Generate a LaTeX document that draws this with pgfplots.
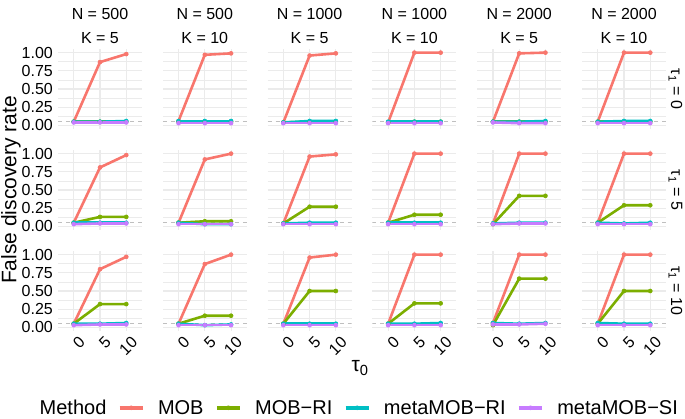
\documentclass[border=0pt]{standalone}
\usepackage{fontspec}
\setmainfont{Liberation Sans}
\usepackage{pgfplots}
\usepackage{pgfplotstable}
\pgfplotsset{compat=1.18}
\definecolor{cMOB}{HTML}{F8766D}
\definecolor{cRI}{HTML}{7CAE00}
\definecolor{cMRI}{HTML}{00BFC4}
\definecolor{cMSI}{HTML}{C77CFF}
\definecolor{gridc}{HTML}{EBEBEB}

% x: 1,2,3 = tau0 of 0,5,10
\pgfplotstableread{
x mob mobri metari metasi
1 0.05 0.05 0.05 0.04
2 0.87 0.05 0.05 0.04
3 0.98 0.05 0.06 0.04
}\tAa
\pgfplotstableread{
x mob mobri metari metasi
1 0.06 0.05 0.06 0.03
2 0.97 0.05 0.06 0.03
3 0.99 0.05 0.06 0.03
}\tAb
\pgfplotstableread{
x mob mobri metari metasi
1 0.04 0.04 0.04 0.03
2 0.96 0.05 0.06 0.03
3 0.99 0.05 0.06 0.03
}\tAc
\pgfplotstableread{
x mob mobri metari metasi
1 0.04 0.04 0.05 0.03
2 1.00 0.05 0.05 0.03
3 1.00 0.05 0.05 0.03
}\tAd
\pgfplotstableread{
x mob mobri metari metasi
1 0.05 0.05 0.05 0.04
2 0.99 0.05 0.05 0.03
3 1.00 0.05 0.06 0.03
}\tAe
\pgfplotstableread{
x mob mobri metari metasi
1 0.05 0.05 0.05 0.03
2 1.00 0.05 0.06 0.03
3 1.00 0.05 0.06 0.03
}\tAf
\pgfplotstableread{
x mob mobri metari metasi
1 0.05 0.05 0.05 0.03
2 0.81 0.13 0.05 0.04
3 0.98 0.13 0.05 0.04
}\tBa
\pgfplotstableread{
x mob mobri metari metasi
1 0.05 0.05 0.05 0.03
2 0.92 0.07 0.03 0.03
3 1.00 0.07 0.03 0.03
}\tBb
\pgfplotstableread{
x mob mobri metari metasi
1 0.04 0.04 0.04 0.03
2 0.96 0.27 0.05 0.03
3 0.99 0.27 0.05 0.03
}\tBc
\pgfplotstableread{
x mob mobri metari metasi
1 0.05 0.05 0.05 0.03
2 1.00 0.16 0.05 0.03
3 1.00 0.16 0.05 0.03
}\tBd
\pgfplotstableread{
x mob mobri metari metasi
1 0.04 0.03 0.04 0.03
2 1.00 0.42 0.05 0.04
3 1.00 0.42 0.05 0.04
}\tBe
\pgfplotstableread{
x mob mobri metari metasi
1 0.05 0.05 0.05 0.03
2 1.00 0.29 0.04 0.03
3 1.00 0.29 0.05 0.03
}\tBf
\pgfplotstableread{
x mob mobri metari metasi
1 0.05 0.05 0.05 0.03
2 0.80 0.32 0.05 0.04
3 0.97 0.32 0.06 0.04
}\tCa
\pgfplotstableread{
x mob mobri metari metasi
1 0.05 0.05 0.05 0.03
2 0.87 0.16 0.03 0.03
3 1.00 0.16 0.04 0.03
}\tCb
\pgfplotstableread{
x mob mobri metari metasi
1 0.05 0.05 0.05 0.03
2 0.96 0.50 0.05 0.03
3 1.00 0.50 0.05 0.03
}\tCc
\pgfplotstableread{
x mob mobri metari metasi
1 0.05 0.05 0.05 0.03
2 1.00 0.33 0.05 0.03
3 1.00 0.33 0.06 0.03
}\tCd
\pgfplotstableread{
x mob mobri metari metasi
1 0.06 0.03 0.06 0.04
2 1.00 0.67 0.05 0.04
3 1.00 0.67 0.06 0.05
}\tCe
\pgfplotstableread{
x mob mobri metari metasi
1 0.05 0.05 0.06 0.03
2 1.00 0.50 0.05 0.03
3 1.00 0.50 0.05 0.03
}\tCf

\pgfplotsset{
  panel/.style={
    scale only axis, width=84pt, height=80pt, anchor=north west,
    xmin=0.4, xmax=3.6, ymin=-0.05, ymax=1.05,
    xtick={1,2,3}, ytick={0,0.25,0.5,0.75,1},
    minor ytick={0.125,0.375,0.625,0.875},
    xticklabels={,,}, yticklabels={,,,,},
    grid=both,
    major grid style={draw=gridc, line width=1.1pt},
    minor grid style={draw=gridc, line width=0.55pt},
    axis line style={draw=none},
    major tick length=0pt, minor tick length=0pt,
    tick label style={font=\fontsize{16}{18}\selectfont, text=black},
    legend image code/.code={\draw[mark repeat=2,mark phase=2,##1,line width=3.6pt]
        plot coordinates {(0pt,0pt) (11.5pt,0pt) (23pt,0pt)};},
  },
  ylab/.style={yticklabels={0.00,0.25,0.50,0.75,1.00},
    yticklabel style={anchor=east, inner sep=0pt, xshift=-5pt}},
  xlab/.style={xticklabels={0,5,10},
    xticklabel style={rotate=45, anchor=north east, inner sep=0pt, yshift=-6pt}},
  sMOB/.style={color=cMOB, line width=2.6pt, line join=round, mark=*, mark size=2pt, mark options={line width=0.6pt}},
  sRI/.style={color=cRI, line width=2.6pt, line join=round, mark=*, mark size=2pt, mark options={line width=0.6pt}},
  sMRI/.style={color=cMRI, line width=2.6pt, line join=round, mark=*, mark size=2pt, mark options={line width=0.6pt}},
  sMSI/.style={color=cMSI, line width=2.6pt, line join=round, mark=*, mark size=2pt, mark options={line width=0.6pt}},
}

\newcommand{\panel}[5]{%
\begin{axis}[panel, at={(58pt+#1*104.8pt,-49pt-#2*101pt)}, #4]
#5
\addplot[forget plot, draw=gray!50, line width=0.8pt, dash pattern=on 4pt off 4pt] coordinates {(0.4,0.05) (3.6,0.05)};
\addplot[sMOB] table[x=x,y=mob]{#3};
\addplot[sRI] table[x=x,y=mobri]{#3};
\addplot[sMRI] table[x=x,y=metari]{#3};
\addplot[sMSI] table[x=x,y=metasi]{#3};
\end{axis}}

\begin{document}
\begin{tikzpicture}
\useasboundingbox (0,0) rectangle (685pt,-419pt);
% row 1
\panel{0}{0}{\tAa}{ylab}{}
\panel{1}{0}{\tAb}{}{}
\panel{2}{0}{\tAc}{}{}
\panel{3}{0}{\tAd}{}{}
\panel{4}{0}{\tAe}{}{}
\panel{5}{0}{\tAf}{}{}
% row 2
\panel{0}{1}{\tBa}{ylab}{}
\panel{1}{1}{\tBb}{}{}
\panel{2}{1}{\tBc}{}{}
\panel{3}{1}{\tBd}{}{}
\panel{4}{1}{\tBe}{}{}
\panel{5}{1}{\tBf}{}{}
% row 3
\panel{0}{2}{\tCa}{ylab,xlab,
  legend columns=5,
  legend entries={Method,MOB,MOB−RI,metaMOB−RI,metaMOB−SI},
  legend style={at={(axis description cs:-0.381,-0.96)}, anchor=west,
    draw=none, fill=none, inner sep=0pt, font=\fontsize{20}{23}\selectfont,
    nodes={inner sep=0pt},
    column sep=0pt,
    /tikz/every odd column/.append style={column sep=13.5pt},
    /tikz/every even column/.append style={column sep=11.5pt}}}{\addlegendimage{empty legend}}
\panel{1}{2}{\tCb}{xlab}{}
\panel{2}{2}{\tCc}{xlab}{}
\panel{3}{2}{\tCd}{xlab}{}
\panel{4}{2}{\tCe}{xlab}{}
\panel{5}{2}{\tCf}{xlab}{}
% strip labels
\foreach \c/\n/\k in {0/500/5,1/500/10,2/1000/5,3/1000/10,4/2000/5,5/2000/10}{
  \node[anchor=base, inner sep=0pt, font=\fontsize{16}{18}\selectfont] at (100pt+\c*104.8pt,-20pt) {N = \n};
  \node[anchor=base, inner sep=0pt, font=\fontsize{16}{18}\selectfont] at (100pt+\c*104.8pt,-43.5pt) {K = \k};
}
\foreach \r/\t in {0/0,1/5,2/10}{
  \node[rotate=-90, inner sep=0pt, font=\fontsize{16}{18}\selectfont] at (675.5pt,-89pt-\r*101pt) {τ\textsubscript{1} = \t};
}
\node[rotate=90, inner sep=0pt, font=\fontsize{21}{24}\selectfont] at (11pt,-190pt) {False discovery rate};
\node[inner sep=0pt, font=\fontsize{21}{24}\selectfont] at (360pt,-368pt) {τ\textsubscript{0}};
\end{tikzpicture}
\end{document}
